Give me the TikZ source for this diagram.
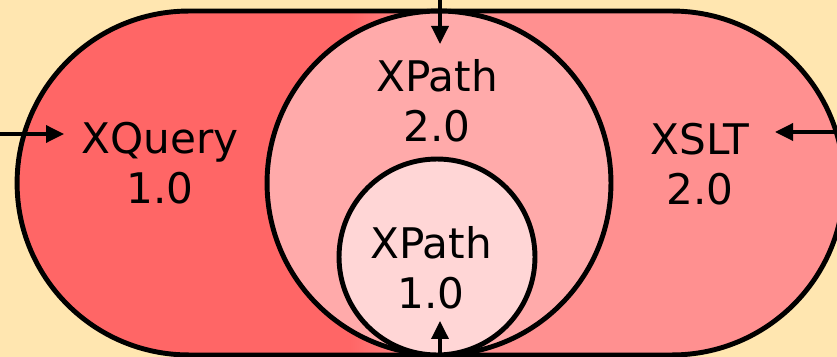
\documentclass[tikz,border=0pt]{standalone}
\usepackage{fontspec}
\setmainfont{DejaVu Sans}
\usetikzlibrary{arrows.meta,shapes.misc}

\definecolor{paper}{RGB}{255,230,176}
\definecolor{qred}{RGB}{255,102,102}
\definecolor{tpink}{RGB}{255,144,144}
\definecolor{ptwo}{RGB}{255,170,170}
\definecolor{pone}{RGB}{255,214,214}

\tikzset{
  rim/.style={draw=black, line width=2.8pt},
  lang/.style={align=center, inner sep=0pt,
    font=\fontsize{24}{28.5}\selectfont},
  feed/.style={line width=2pt,
    -{Triangle[length=0.36cm,width=0.34cm]}},
}

\begin{document}
\begin{tikzpicture}[x=0.02cm,y=-0.02cm]
    \fill[paper] (0,0) rectangle (837,357);
    \useasboundingbox (0,0) rectangle (837,357);
    \clip (0,0) rectangle (837,357);

    % outer capsule: XQuery on the left, XSLT on the right
    % (path picture coordinates are taken from the node centre)
    \node[rounded rectangle, rim, inner sep=0pt,
        minimum width=16.54cm, minimum height=6.88cm,
        path picture={
            \fill[tpink] (-450,-200) rectangle (450,200);
            \fill[qred] (-450,-200) rectangle (-80,200);
            \shade[left color=qred, right color=tpink]
                (-81,-200) rectangle (0,200);
        }] (capsule) at (430.5,183) {};

    % the two XPath circles
    \node[circle, rim, fill=ptwo, inner sep=0pt,
        minimum size=6.88cm] (xp2) at (439,183) {};
    \node[circle, rim, fill=pone, inner sep=0pt,
        minimum size=3.92cm] (xp1) at (437,257) {};

    \node[lang] (xquery) at (160,163) {XQuery\\1.0};
    \node[lang] (xslt) at (700,164) {XSLT\\2.0};
    \node[lang] (xpath2) at (437,101) {XPath\\2.0};
    \node[lang] (xpath1) at (431,268) {XPath\\1.0};

    % entry points
    \coordinate (qin) at (0,134);
    \coordinate (qtip) at (64,134);
    \coordinate (sin) at (837,132);
    \coordinate (stip) at (775,132);
    \coordinate (tin) at (440,0);
    \coordinate (ttip) at (440,44);
    \coordinate (bin) at (440,357);
    \coordinate (btip) at (440,321);

    \draw[feed] (qin) -- (qtip);
    \draw[feed] (sin) -- (stip);
    \draw[feed] (tin) -- (ttip);
    \draw[feed] (bin) -- (btip);
\end{tikzpicture}
\end{document}
